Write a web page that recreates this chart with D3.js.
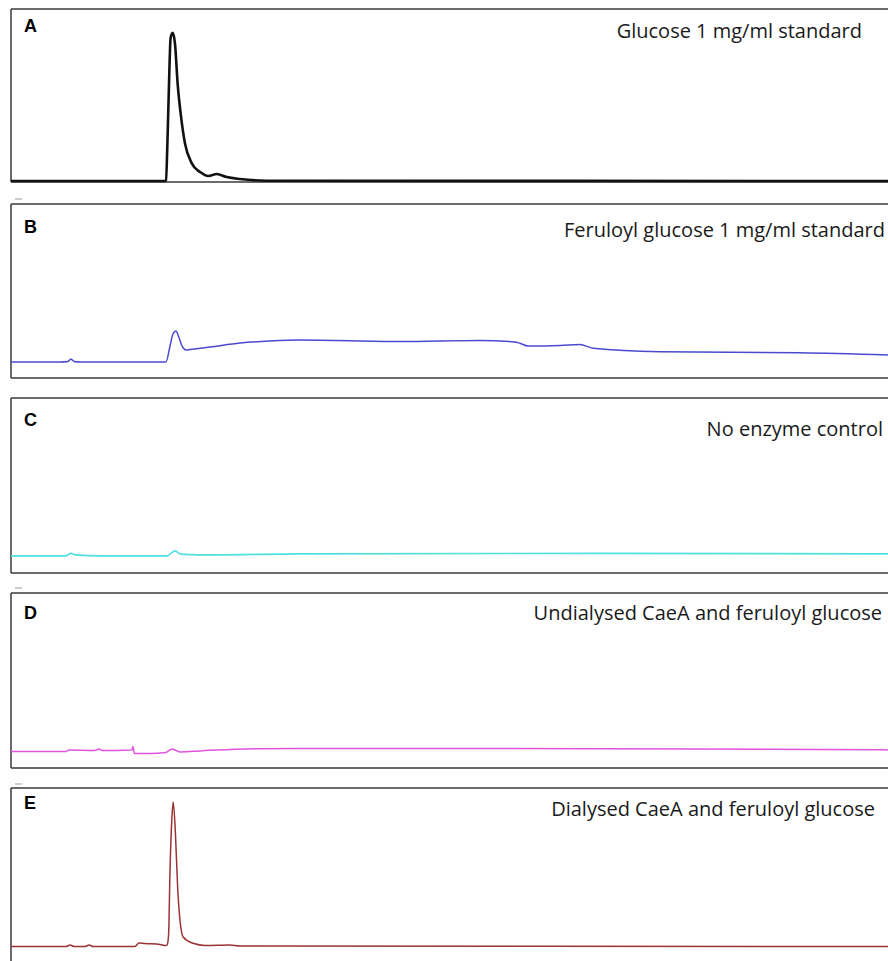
<!DOCTYPE html>
<html>
<head>
<meta charset="utf-8">
<script src="https://cdn.jsdelivr.net/npm/d3@7"></script>
<style>
  html, body { margin: 0; padding: 0; background: #ffffff; }
  svg { display: block; }
</style>
</head>
<body>
<svg id="chart" width="888" height="961"></svg>
<script>
// ---------------- DATA ----------------
const panelLetters = ["A", "B", "C", "D", "E"];
const panelTitles = [
  "Glucose 1 mg/ml standard",
  "Feruloyl glucose 1 mg/ml standard",
  "No enzyme control",
  "Undialysed CaeA and feruloyl glucose",
  "Dialysed CaeA and feruloyl glucose"
];
// retention time (min), detector signal (arbitrary units)
const traceA = [
  [0, -15], [5.27, -15], [5.30, -14.5], [5.36, 33], [5.42, 99], [5.46, 129], [5.53, 134],
  [5.61, 123], [5.70, 83], [5.82, 49], [5.95, 23], [6.18, 3], [6.47, -6], [6.75, -10],
  [7.04, -8], [7.38, -11], [7.83, -13], [8.75, -14.7], [30, -15]
];
const traceB = [
  [0, 0], [1.68, 0], [1.95, 0.5], [2.05, 3], [2.16, 0.5], [2.36, 0], [5.30, 0],
  [5.44, 16], [5.54, 28], [5.64, 31], [5.75, 24], [5.85, 16], [5.99, 12], [6.12, 12.5],
  [6.81, 15], [7.83, 19], [8.86, 21], [9.89, 22], [13.31, 20.5], [16.04, 21.5],
  [17.24, 20], [17.41, 18.7], [17.69, 16], [18.78, 16.5], [19.46, 17.5], [19.91, 13.7],
  [22.20, 10.3], [26.99, 9.3], [30, 7]
];
const traceC = [
  [0, 1], [1.88, 1], [2.05, 3.5], [2.22, 2], [3.04, 1], [5.34, 1], [5.51, 4.5],
  [5.61, 6], [5.75, 3.5], [5.95, 2.5], [6.81, 2], [9.89, 3], [20.15, 3.5], [30, 3]
];
const traceD = [
  [0, 0.3], [1.88, 0.3], [1.98, 2], [2.87, 1.5], [3.01, 3], [3.11, 1.5], [4.14, 2],
  [4.17, 5.5], [4.22, -1.5], [4.75, -1.5], [5.30, -0.5], [5.51, 3], [5.64, 1.5],
  [5.78, 0], [6.47, 1], [7.49, 2.5], [9.89, 3.5], [16.73, 3.5], [23.57, 3], [30, 2]
];
const traceE = [
  [0, -0.5], [1.88, -0.5], [2.02, 1], [2.16, -0.5], [2.53, -0.5], [2.67, 1], [2.81, -0.5],
  [4.24, -0.5], [4.38, 3], [4.58, 2.5], [5.10, 1.5], [5.30, 0.5], [5.34, 1], [5.39, 11],
  [5.44, 76], [5.50, 126], [5.55, 144], [5.63, 109], [5.70, 59], [5.78, 26], [5.89, 9],
  [6.23, 2.7], [6.64, 0.5], [7.49, 1], [7.83, 0], [30, -0.5]
];
const traces = [traceA, traceB, traceC, traceD, traceE];
const timeDomain = [0, 30];
const signalDomain = [-16, 158];

// ---------------- LAYOUT / STYLE ----------------
const W = 888, H = 961;
const plotLeft = 11, plotRight = 888;
const panelTops = [9, 204, 398, 593, 788];
const panelBottoms = [182, 378, 573, 768, 962];
const letterBaselines = [32, 233, 426, 619, 809];
const titleBaselines = [38, 237, 436, 620, 816];
const titleRights = [862, 885, 883, 882, 875];
const lineColors = ["#111111", "#4a4ad0", "#4fdfe0", "#e055e0", "#9a3333"];
const lineWidths = [2.6, 1.5, 1.6, 1.5, 1.5];

const svg = d3.select("#chart");

const x = d3.scaleLinear().domain(timeDomain).range([plotLeft, plotRight]);

panelLetters.forEach((letter, i) => {
  const top = panelTops[i], bottom = panelBottoms[i];
  const y = d3.scaleLinear().domain(signalDomain).range([bottom, top]);
  const g = svg.append("g").attr("class", "panel panel-" + letter);

  // frame: top, left, bottom (no right edge visible)
  g.append("line")
    .attr("x1", plotLeft).attr("x2", W + 2)
    .attr("y1", top).attr("y2", top)
    .attr("stroke", "#3a3a3a").attr("stroke-width", 1.5);
  g.append("line")
    .attr("x1", plotLeft).attr("x2", plotLeft)
    .attr("y1", top).attr("y2", bottom)
    .attr("stroke", "#3a3a3a").attr("stroke-width", 1.5);
  g.append("line")
    .attr("x1", plotLeft).attr("x2", W + 2)
    .attr("y1", bottom).attr("y2", bottom)
    .attr("stroke", "#3a3a3a").attr("stroke-width", 1.5);

  const line = d3.line()
    .x(d => x(d[0]))
    .y(d => y(d[1]))
    .curve(d3.curveMonotoneX);

  g.append("path")
    .datum(traces[i])
    .attr("fill", "none")
    .attr("stroke", lineColors[i])
    .attr("stroke-width", lineWidths[i])
    .attr("stroke-linejoin", "round")
    .attr("d", line);

  g.append("text")
    .attr("x", 24).attr("y", letterBaselines[i])
    .attr("font-family", "Liberation Sans, Arial, sans-serif")
    .attr("font-weight", "bold")
    .attr("font-size", 18)
    .attr("fill", "#000")
    .text(letter);

  g.append("text")
    .attr("x", titleRights[i]).attr("y", titleBaselines[i])
    .attr("text-anchor", "end")
    .attr("font-family", "Open Sans, Lato, sans-serif")
    .attr("font-size", 20)
    .attr("fill", "#1a1a1a")
    .text(panelTitles[i]);
});

// small gray marks that appear at the left edge between panels
[199, 588, 784].forEach(yy => {
  svg.append("line")
    .attr("x1", 15).attr("x2", 22).attr("y1", yy).attr("y2", yy)
    .attr("stroke", "#9a9a9a").attr("stroke-width", 1);
});
</script>
</body>
</html>
